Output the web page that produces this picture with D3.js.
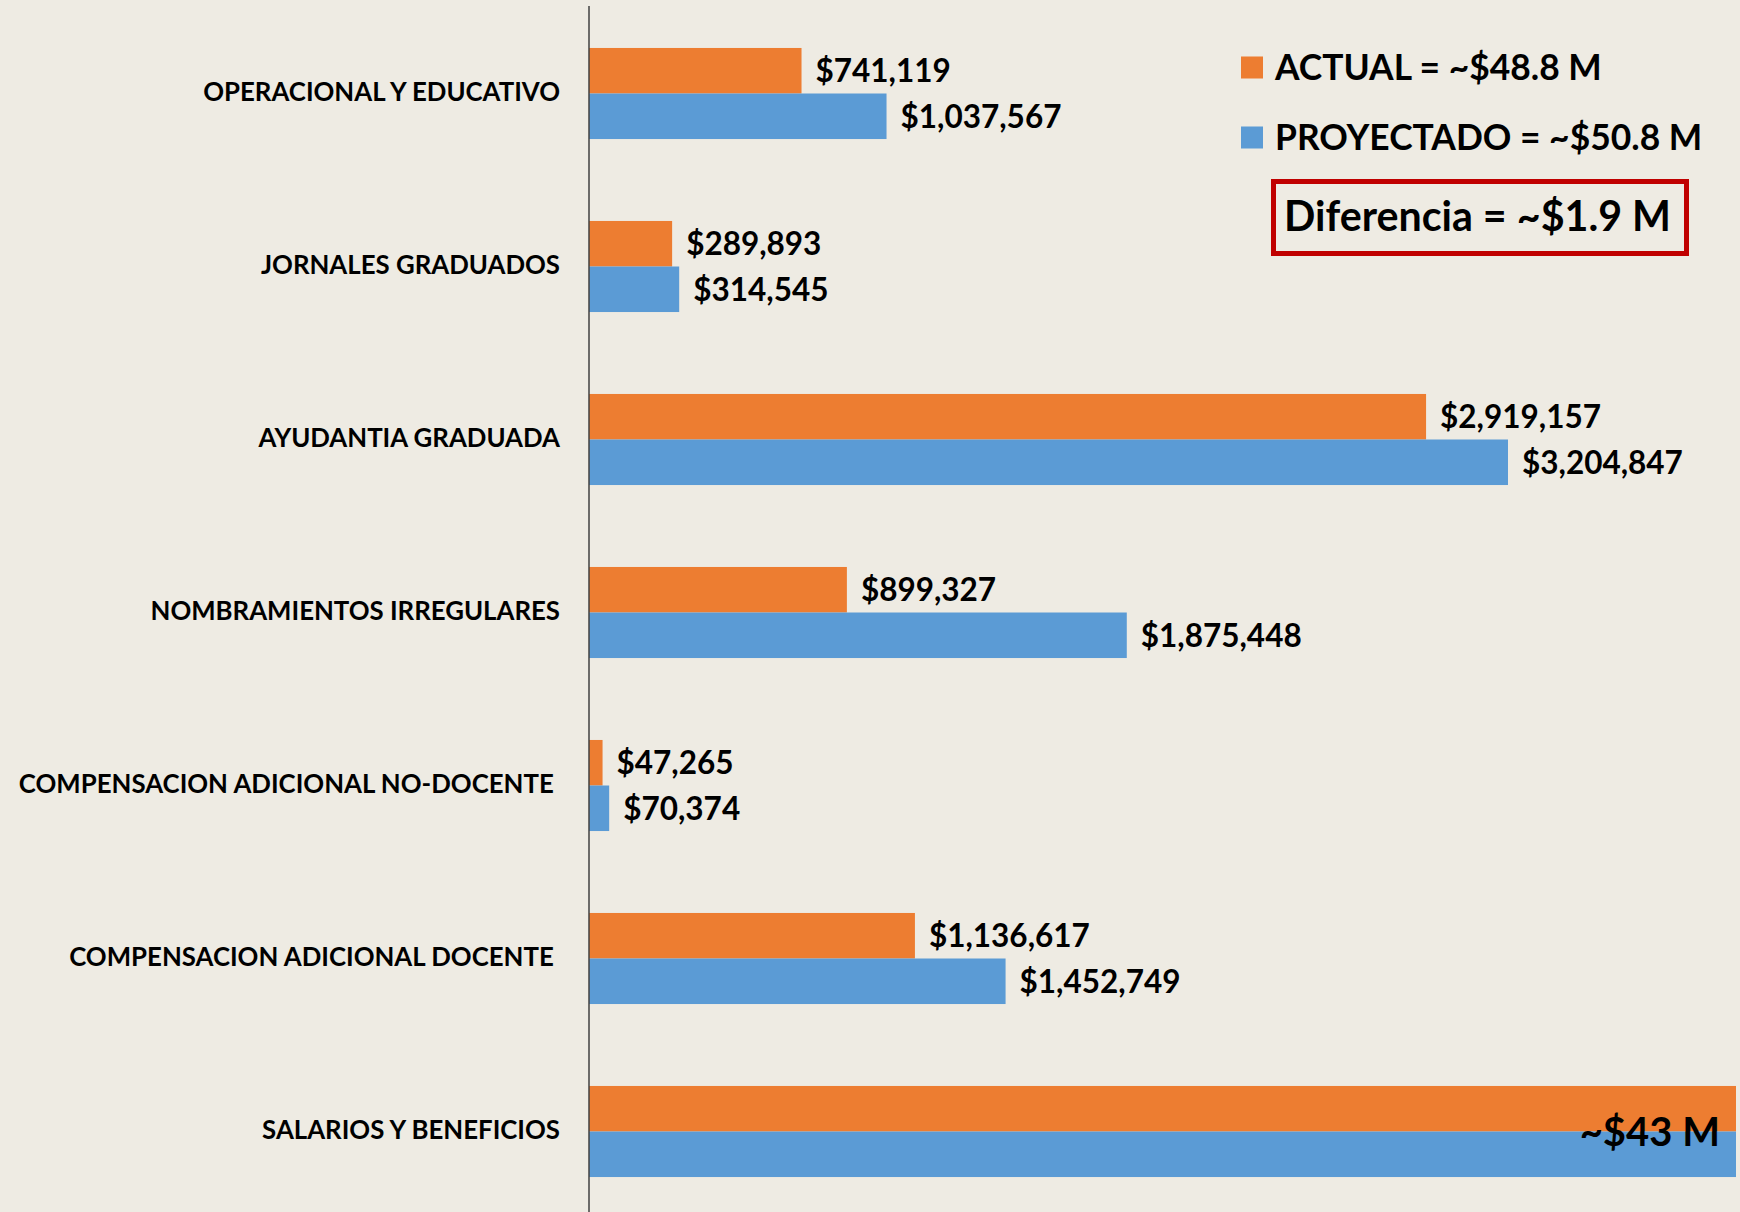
<!DOCTYPE html>
<html>
<head>
<meta charset="utf-8">
<script src="https://cdnjs.cloudflare.com/ajax/libs/d3/7.8.5/d3.min.js"></script>
<style>
  body { margin: 0; background: #EEEBE3; }
  svg { display: block; font-family: Lato, "Open Sans", sans-serif; font-weight: bold; }
  .cat text { white-space: pre; }
</style>
</head>
<body>
<svg id="chart" width="1740" height="1212"></svg>
<script>
// categories, top to bottom (trailing spaces are in the original labels)
const categories = [
    "OPERACIONAL Y EDUCATIVO",
    "JORNALES GRADUADOS",
    "AYUDANTIA GRADUADA",
    "NOMBRAMIENTOS IRREGULARES",
    "COMPENSACION ADICIONAL NO-DOCENTE ",
    "COMPENSACION ADICIONAL DOCENTE ",
    "SALARIOS Y BENEFICIOS"
];
const actual = [741119, 289893, 2919157, 899327, 47265, 1136617, 42770000];
const proyectado = [1037567, 314545, 3204847, 1875448, 70374, 1452749, 42840000];
const seriesNames = ["ACTUAL = ~$48.8 M", "PROYECTADO = ~$50.8 M"];
const differenceText = "Diferencia = ~$1.9 M";
const bigLabel = "~$43 M";

const colors = ["#ED7D31", "#5B9BD5"];
const width = 1740, height = 1212;
const axisX = 589, xMax = 4000000;

const svg = d3.select("#chart");

const rows = categories.map((c, i) => ({ cat: c, values: [actual[i], proyectado[i]] }));

const x = d3.scaleLinear()
    .domain([0, xMax])
    .range([axisX, 1736])
    .clamp(true);

const y = d3.scaleBand()
    .domain(categories)
    .range([7, 1218]);

const ySub = d3.scaleBand()
    .domain([0, 1])
    .range([0, y.bandwidth()])
    .paddingOuter(0.9);

const fmt = d3.format("$,");

// bars
const groups = svg.append("g").selectAll("g")
    .data(rows)
    .join("g")
    .attr("transform", d => `translate(0, ${y(d.cat)})`);

groups.selectAll("rect")
    .data(d => d.values)
    .join("rect")
    .attr("x", x(0))
    .attr("y", (d, i) => ySub(i))
    .attr("width", d => x(d) - x(0))
    .attr("height", ySub.bandwidth())
    .attr("fill", (d, i) => colors[i]);

// value labels (only for bars that fit within the axis)
groups.selectAll("text.val")
    .data(d => d.values.filter(v => v <= xMax))
    .join("text")
    .attr("class", "val")
    .attr("x", d => x(d) + 14)
    .attr("y", (d, i) => ySub(i) + ySub.bandwidth() / 2)
    .attr("dy", "0.36em")
    .attr("font-size", 31.5)
    .attr("fill", "#000")
    .text(d => fmt(d));

// label for the clipped salaries bars
const last = categories[categories.length - 1];
svg.append("text")
    .attr("x", 1720)
    .attr("y", y(last) + y.bandwidth() / 2)
    .attr("dy", "0.36em")
    .attr("text-anchor", "end")
    .attr("font-size", 40)
    .attr("fill", "#000")
    .text(bigLabel);

// category axis
const yAxis = d3.axisLeft(y).tickSize(0).tickPadding(29);
const ax = svg.append("g")
    .attr("class", "cat")
    .attr("transform", `translate(${axisX}, 0)`)
    .call(yAxis);
ax.select(".domain").remove();
ax.selectAll("text")
    .attr("font-size", 25.8)
    .attr("font-family", "Lato, sans-serif")
    .attr("font-weight", "bold")
    .attr("fill", "#000")
    .attr("dy", "0.3em");

svg.append("line")
    .attr("x1", axisX).attr("x2", axisX)
    .attr("y1", 6).attr("y2", height)
    .attr("stroke", "#404040")
    .attr("stroke-width", 1.5);

// legend
const legend = svg.append("g").attr("transform", "translate(1241, 0)");
const items = legend.selectAll("g")
    .data(seriesNames)
    .join("g")
    .attr("transform", (d, i) => `translate(0, ${67.5 + i * 70})`);
items.append("rect")
    .attr("x", 0).attr("y", -11)
    .attr("width", 22).attr("height", 22)
    .attr("fill", (d, i) => colors[i]);
items.append("text")
    .attr("x", 34)
    .attr("dy", "0.36em")
    .attr("font-size", 35.4)
    .attr("fill", "#000")
    .text(d => d);

// difference box
svg.append("rect")
    .attr("x", 1273.5).attr("y", 181.5)
    .attr("width", 413).attr("height", 72)
    .attr("fill", "none")
    .attr("stroke", "#C00000")
    .attr("stroke-width", 5);
svg.append("text")
    .attr("x", 1284)
    .attr("y", 231)
    .attr("font-size", 41.2)
    .attr("fill", "#000")
    .text(differenceText);
</script>
</body>
</html>
